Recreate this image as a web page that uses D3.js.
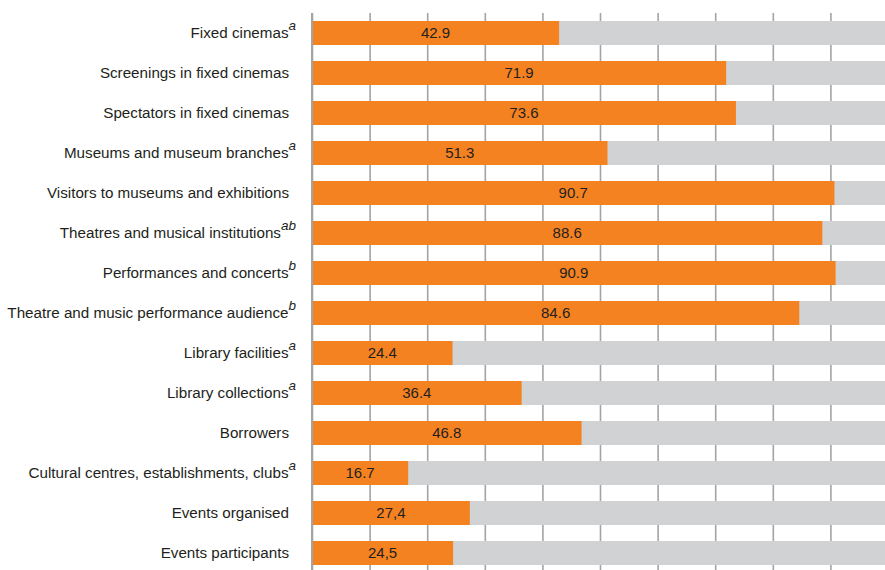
<!DOCTYPE html>
<html>
<head>
<meta charset="utf-8">
<script src="https://cdn.jsdelivr.net/npm/d3@7"></script>
<style>
body { margin: 0; background: #fff; }
text { font-family: "Liberation Sans", Arial, sans-serif; }
</style>
</head>
<body>
<div id="chart"></div>
<script>
// categories, footnote marks and values (per cent)
var categories = [
  "Fixed cinemas",
  "Screenings in fixed cinemas",
  "Spectators in fixed cinemas",
  "Museums and museum branches",
  "Visitors to museums and exhibitions",
  "Theatres and musical institutions",
  "Performances and concerts",
  "Theatre and music performance audience",
  "Library facilities",
  "Library collections",
  "Borrowers",
  "Cultural centres, establishments, clubs",
  "Events organised",
  "Events participants"
];
var notes = ["a", "", "", "a", "", "ab", "b", "b", "a", "a", "", "a", "", ""];
var values = [42.9, 71.9, 73.6, 51.3, 90.7, 88.6, 90.9, 84.6, 24.4, 36.4, 46.8, 16.7, 27.4, 24.5];
var valueLabels = ["42.9", "71.9", "73.6", "51.3", "90.7", "88.6", "90.9", "84.6", "24.4", "36.4", "46.8", "16.7", "27,4", "24,5"];
var gridTicks = [0, 10, 20, 30, 40, 50, 60, 70, 80, 90, 100];

var w = 885;
var h = 570;

var x = d3.scaleLinear()
  .domain([0, 100])
  .range([312, 888]);

var y = d3.scaleBand()
  .domain(categories)
  .range([13, 573])
  .paddingInner(0.4)
  .paddingOuter(0.2);

var svg = d3.select("#chart")
  .append("svg")
  .attr("width", w)
  .attr("height", h);

// vertical grid lines
var grid = svg.append("g")
  .attr("transform", "translate(0,573)")
  .call(d3.axisBottom(x).tickValues(gridTicks).tickSize(-560).tickFormat(""));
grid.select(".domain").remove();
grid.selectAll("line")
  .attr("stroke", "#a3a3a3")
  .attr("stroke-width", 1.6);

var rows = svg.selectAll("g.row")
  .data(categories)
  .enter()
  .append("g")
  .attr("class", "row");

// grey 100% background
rows.append("rect")
  .attr("x", x(0))
  .attr("y", d => y(d))
  .attr("width", x(100) - x(0))
  .attr("height", y.bandwidth())
  .attr("fill", "#d1d2d4");

rows.append("rect")
  .attr("x", x(0))
  .attr("y", d => y(d))
  .attr("width", (d, i) => x(values[i]) - x(0))
  .attr("height", y.bandwidth())
  .attr("fill", "#f58220");

rows.append("text")
  .attr("x", (d, i) => (x(0) + x(values[i])) / 2)
  .attr("y", d => y(d) + y.bandwidth() / 2 + 5)
  .attr("text-anchor", "middle")
  .attr("font-size", "15px")
  .attr("fill", "#231f20")
  .text((d, i) => valueLabels[i]);

// category labels with italic footnote marks
var label = rows.append("text")
  .attr("x", (d, i) => notes[i] ? 296 : 289)
  .attr("y", d => y(d) + y.bandwidth() / 2 + 4.5)
  .attr("text-anchor", "end")
  .attr("font-size", "15.2px")
  .attr("fill", "#231f20");

label.append("tspan")
  .text(d => d);

label.append("tspan")
  .attr("font-style", "italic")
  .attr("font-size", "13.5px")
  .attr("dy", -8)
  .text((d, i) => notes[i]);

// left axis line
svg.append("line")
  .attr("x1", x(0))
  .attr("x2", x(0))
  .attr("y1", 13)
  .attr("y2", 573)
  .attr("stroke", "#a3a3a3")
  .attr("stroke-width", 2);
</script>
</body>
</html>
